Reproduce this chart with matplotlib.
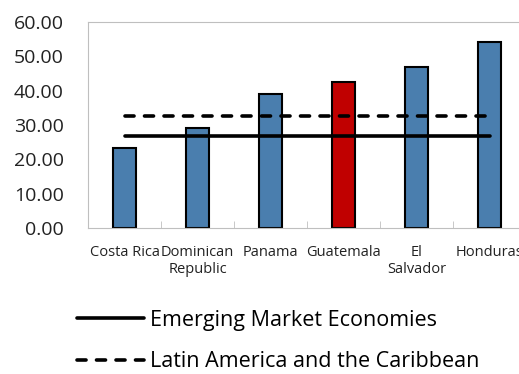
import matplotlib.pyplot as plt

countries = ['Costa Rica', 'Dominican\nRepublic', 'Panama', 'Guatemala', 'El\nSalvador', 'Honduras']
values = [23.3, 29.0, 38.9, 42.6, 46.8, 54.3]
bar_colors = ['#4A7EAE', '#4A7EAE', '#4A7EAE', '#C00000', '#4A7EAE', '#4A7EAE']
eme = [26.8] * 6
lac = [32.5] * 6

plt.rcParams['font.family'] = ['Open Sans', 'DejaVu Sans']

fig = plt.figure(figsize=(5.19, 3.74), dpi=100)
ax = fig.add_axes([0.1696, 0.3904, 0.8439, 0.5508])

x = range(len(countries))
ax.bar(x, values, width=0.32, color=bar_colors, edgecolor='black', linewidth=1.5, zorder=2)
l1, = ax.plot(x, eme, color='black', lw=2.6, solid_capstyle='round', zorder=3,
              label='Emerging Market Economies')
l2, = ax.plot(x, lac, color='black', lw=2.6, ls=(0, (2.5, 2.9)), dash_capstyle='round', zorder=3,
              label='Latin America and the Caribbean')

ax.set_xlim(-0.5, 5.5)
ax.set_ylim(0, 60)
ax.set_yticks(range(0, 61, 10))
ax.set_yticklabels([f'{v:.2f}' for v in range(0, 61, 10)], fontsize=14, color='#222222')
ax.set_xticks(x)
ax.set_xticklabels(countries, fontsize=10.5, color='#222222')
ax.tick_params(axis='x', length=0, pad=12)
ax.tick_params(axis='y', length=0, pad=17.5)
ax.set_xticks([i + 0.5 for i in range(5)], minor=True)
ax.tick_params(axis='x', which='minor', direction='in', length=5, color='#BFBFBF')
ax.set_yticks(range(0, 61, 10), minor=True)
ax.tick_params(axis='y', which='minor', direction='in', length=5, color='#BFBFBF')
for s in ax.spines.values():
    s.set_color('#BFBFBF')
    s.set_linewidth(0.8)

fig.legend(handles=[l1, l2], loc='upper left', bbox_to_anchor=(0.148, 0.172), frameon=False,
           fontsize=15.5, handlelength=3.1, handletextpad=0.3, labelspacing=0.95,
           borderpad=0, borderaxespad=0)

fig.savefig('out.png', dpi=100)
